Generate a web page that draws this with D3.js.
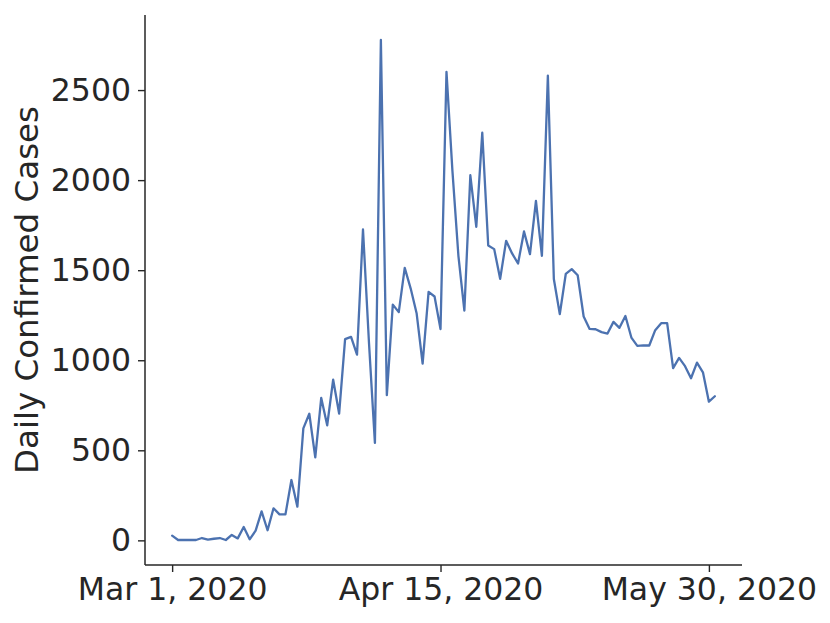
<!DOCTYPE html>
<html>
<head>
<meta charset="utf-8">
<script src="https://cdn.jsdelivr.net/npm/d3@7"></script>
<style>
  html, body { margin: 0; padding: 0; background: #fff; }
  svg text { font-family: "DejaVu Sans", sans-serif; fill: #262626; }
</style>
</head>
<body>
<svg id="chart" width="830" height="623"></svg>
<script>
// Daily confirmed cases, one value per day starting Mar 1, 2020
const startDate = "2020-03-01";
const dailyCases = [
  26, 2, 2, 2, 2, 13, 4, 9, 13, 2,
  30, 11, 74, 6, 54, 161, 56, 178, 144, 144,
  335, 187, 622, 703, 461, 791, 639, 892, 704, 1117,
  1130, 1031, 1726, 1100, 541, 2778, 806, 1309, 1267, 1513,
  1398, 1259, 981, 1380, 1354, 1173, 2601, 2050, 1580, 1276,
  2027, 1741, 2263, 1637, 1617, 1452, 1663, 1593, 1537, 1715,
  1589, 1885, 1580, 2580, 1451, 1256, 1479, 1506, 1472, 1243,
  1174, 1172, 1156, 1148, 1213, 1180, 1246, 1126, 1080, 1082,
  1082, 1167, 1206, 1206, 956, 1013, 967, 900, 987, 933,
  770, 800
];
const yTicks = [0, 500, 1000, 1500, 2000, 2500];
const xTickDates = ["2020-03-01", "2020-04-15", "2020-05-30"];
const yLabel = "Daily Confirmed Cases";

const parse = d3.utcParse("%Y-%m-%d");
const t0 = parse(startDate);
const data = dailyCases.map((v, i) => ({ date: d3.utcDay.offset(t0, i), value: v }));

const svg = d3.select("#chart");
const plot = { left: 145, right: 742, top: 15, bottom: 565 };

// matplotlib-like 5% margins
const tExt = d3.extent(data, d => d.date);
const tSpan = tExt[1] - tExt[0];
const x = d3.scaleUtc()
  .domain([new Date(+tExt[0] - 0.05 * tSpan), new Date(+tExt[1] + 0.05 * tSpan)])
  .range([plot.left, plot.right]);

const yExt = d3.extent(data, d => d.value);
const ySpan = yExt[1] - yExt[0];
const y = d3.scaleLinear()
  .domain([yExt[0] - 0.05 * ySpan, yExt[1] + 0.05 * ySpan])
  .range([plot.bottom, plot.top]);

const fmt = d3.utcFormat("%b %-d, %Y");

// X axis
const xAxis = d3.axisBottom(x)
  .tickValues(xTickDates.map(parse))
  .tickFormat(fmt)
  .tickSize(7)
  .tickPadding(6)
  .tickSizeOuter(0);
const gx = svg.append("g")
  .attr("transform", `translate(0,${plot.bottom})`)
  .call(xAxis);
gx.select(".domain").attr("stroke", "#262626").attr("stroke-width", 1.5)
  .attr("d", `M${plot.left},0H${plot.right}`);
gx.selectAll(".tick line").attr("stroke", "#262626").attr("stroke-width", 1.4);
gx.selectAll(".tick text").attr("font-size", 31.5).attr("fill", "#262626")
  .attr("font-family", "DejaVu Sans, sans-serif");

// Y axis
const yAxis = d3.axisLeft(y)
  .tickValues(yTicks)
  .tickFormat(d3.format("d"))
  .tickSize(7)
  .tickPadding(7)
  .tickSizeOuter(0);
const gy = svg.append("g")
  .attr("transform", `translate(${plot.left},0)`)
  .call(yAxis);
gy.select(".domain").attr("stroke", "#262626").attr("stroke-width", 1.5)
  .attr("d", `M0,${plot.top}V${plot.bottom}`);
gy.selectAll(".tick line").attr("stroke", "#262626").attr("stroke-width", 1.4);
gy.selectAll(".tick text").attr("font-size", 31.5).attr("fill", "#262626")
  .attr("font-family", "DejaVu Sans, sans-serif");

// Y label
svg.append("text")
  .attr("transform", `translate(38,${(plot.top + plot.bottom) / 2}) rotate(-90)`)
  .attr("text-anchor", "middle")
  .attr("font-size", 32.5)
  .text(yLabel);

// Line
const line = d3.line().x(d => x(d.date)).y(d => y(d.value));
svg.append("path")
  .datum(data)
  .attr("fill", "none")
  .attr("stroke", "#4c72b0")
  .attr("stroke-width", 2.3)
  .attr("stroke-linejoin", "round")
  .attr("stroke-linecap", "round")
  .attr("d", line);
</script>
</body>
</html>
